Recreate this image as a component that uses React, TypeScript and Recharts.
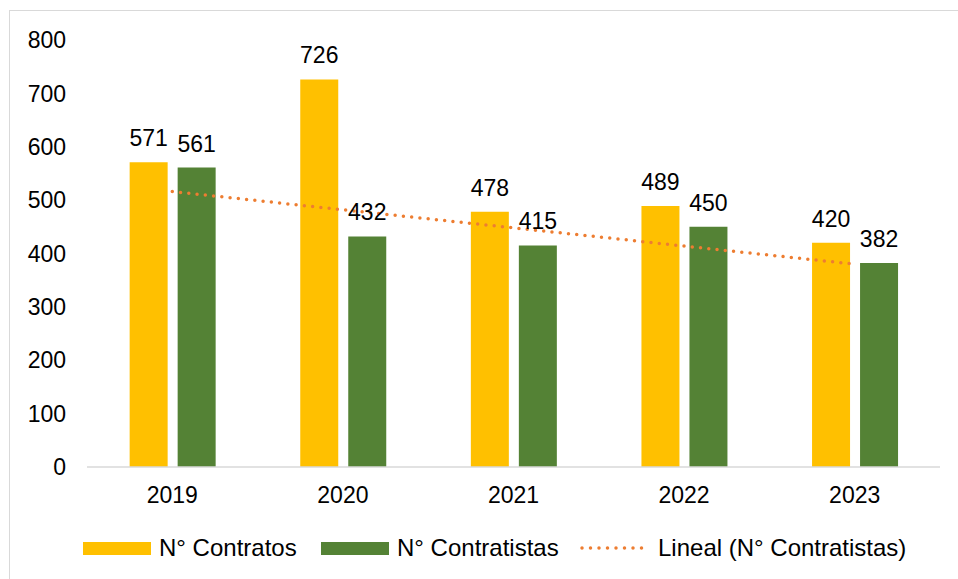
import { ComposedChart, Bar, Line, XAxis, YAxis, LabelList } from "recharts";

const years = ["2019", "2020", "2021", "2022", "2023"];
const contratos = [571, 726, 478, 489, 420];
const contratistas = [561, 432, 415, 450, 382];
// linear trend of N° Contratistas
const lineal = [516, 482, 448, 414, 380];
const yTicks = [0, 100, 200, 300, 400, 500, 600, 700, 800];

const font = '"Liberation Sans", Arial, sans-serif';
const yellow = "#FFC000";
const green = "#548235";
const orange = "#ED7D31";

const data = years.map((year, i) => ({
  year,
  contratos: contratos[i],
  contratistas: contratistas[i],
  lineal: lineal[i],
}));

const legendItems = [
  { label: "N° Contratos", color: yellow, kind: "box", left: 83 },
  { label: "N° Contratistas", color: green, kind: "box", left: 321 },
  { label: "Lineal (N° Contratistas)", color: orange, kind: "dots", left: 580 },
];

export default function App() {
  return (
    <div
      style={{
        position: "absolute",
        left: 0,
        top: 0,
        width: 958,
        height: 579,
        background: "#fff",
        fontFamily: font,
        overflow: "hidden",
      }}
    >
      <div
        style={{
          position: "absolute",
          left: 9,
          top: 10,
          width: 1000,
          height: 1000,
          border: "1px solid #d9d9d9",
        }}
      />
      <ComposedChart
        width={958}
        height={579}
        data={data}
        margin={{ top: 40, right: 18, bottom: 82, left: 0 }}
        barCategoryGap="25%"
        barGap={10}
        style={{ position: "absolute", left: 0, top: 0 }}
      >
        <XAxis
          dataKey="year"
          tickLine={false}
          tickSize={0}
          tickMargin={20}
          axisLine={{ stroke: "#d9d9d9", strokeWidth: 1.5 }}
          tick={{ fill: "#000", fontSize: 23, fontFamily: font }}
        />
        <YAxis
          width={87}
          domain={[0, 800]}
          ticks={yTicks}
          axisLine={false}
          tickLine={false}
          tickSize={0}
          tickMargin={21}
          tick={{ fill: "#000", fontSize: 23, fontFamily: font }}
        />
        <Bar dataKey="contratos" fill={yellow} isAnimationActive={false}>
          <LabelList
            dataKey="contratos"
            position="top"
            offset={16}
            fill="#000"
            fontSize={23}
            fontFamily={font}
          />
        </Bar>
        <Bar dataKey="contratistas" fill={green} isAnimationActive={false}>
          <LabelList
            dataKey="contratistas"
            position="top"
            offset={16}
            fill="#000"
            fontSize={23}
            fontFamily={font}
          />
        </Bar>
        <Line
          dataKey="lineal"
          stroke={orange}
          strokeWidth={3.5}
          strokeDasharray="0 8.3"
          strokeLinecap="round"
          dot={false}
          activeDot={false}
          isAnimationActive={false}
        />
      </ComposedChart>
      {legendItems.map((item) => (
        <div
          key={item.label}
          style={{
            position: "absolute",
            left: item.left,
            top: 533,
            height: 30,
            display: "flex",
            alignItems: "center",
            fontSize: 24,
            color: "#000",
            whiteSpace: "nowrap",
          }}
        >
          {item.kind === "box" ? (
            <div style={{ width: 68, height: 13, background: item.color, marginRight: 8 }} />
          ) : (
            <svg width={72} height={6} style={{ marginRight: 6 }}>
              <line
                x1={2}
                y1={3}
                x2={70}
                y2={3}
                stroke={item.color}
                strokeWidth={3.5}
                strokeDasharray="0 8.5"
                strokeLinecap="round"
              />
            </svg>
          )}
          <span>{item.label}</span>
        </div>
      ))}
    </div>
  );
}
